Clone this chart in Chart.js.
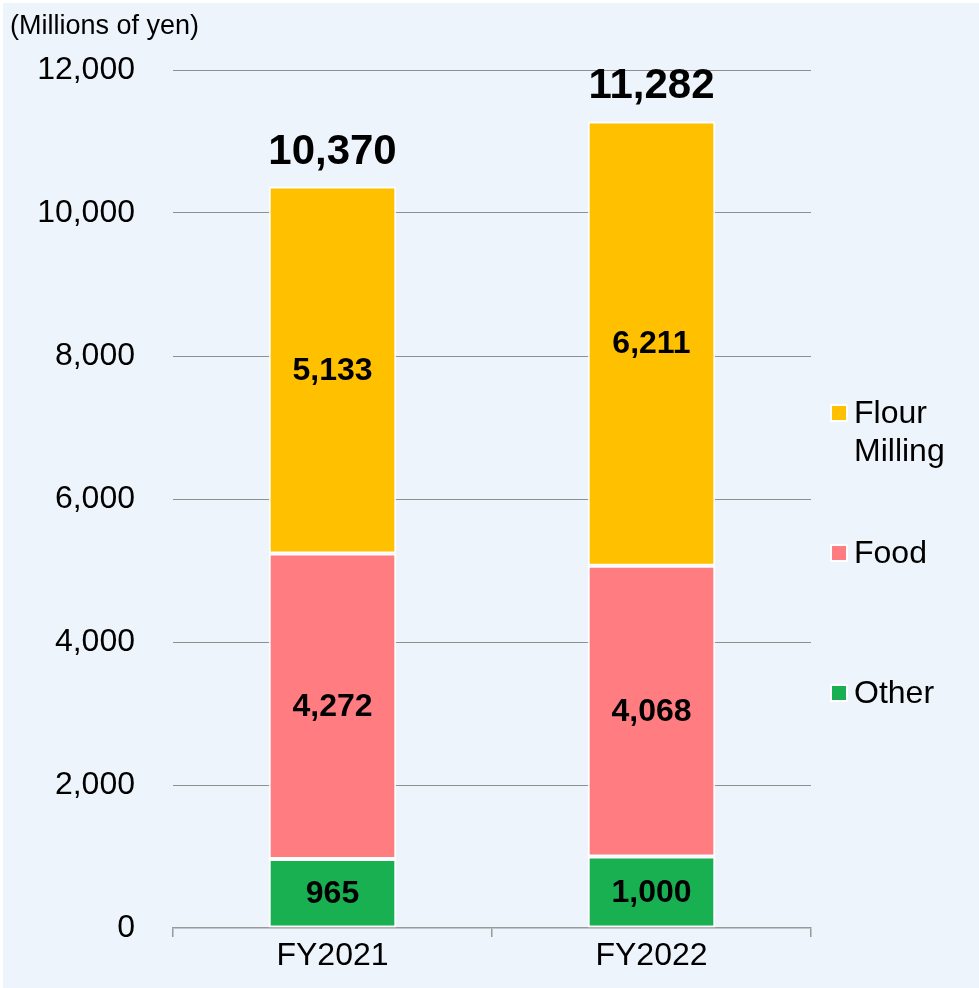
<!DOCTYPE html>
<html>
<head>
<meta charset="utf-8">
<script src="https://cdn.jsdelivr.net/npm/chart.js@4.4.1/dist/chart.umd.min.js"></script>
<style>
  html, body { margin: 0; padding: 0; background: #ffffff; }
  #wrap { position: absolute; left: 0; top: 0; width: 979px; height: 988px; }
</style>
</head>
<body>
<div id="wrap"><canvas id="salesChart" width="979" height="988"></canvas></div>
<script>
const categories = ['FY2021', 'FY2022'];
const otherValues = [965, 1000];
const foodValues = [4272, 4068];
const flourValues = [5133, 6211];
const totals = [10370, 11282];
const seriesNames = ['Flour\nMilling', 'Food', 'Other'];
const unitLabel = '(Millions of yen)';

const FONT = '"Liberation Sans", Arial, sans-serif';

const flourColor = '#ffc000';
const foodColor = '#ff7c80';
const otherColor = '#18b050';

// background, unit label, bar labels and the right-hand legend
const decorPlugin = {
    id: 'decor',
    beforeDraw(chart) {
        const ctx = chart.ctx;
        ctx.save();
        ctx.fillStyle = '#eef4fb';
        ctx.fillRect(3, 3, chart.width - 3, chart.height - 3);
        ctx.restore();
    },
    afterDatasetsDraw(chart) {
        const ctx = chart.ctx;
        ctx.save();
        ctx.fillStyle = '#000';
        ctx.textAlign = 'center';
        ctx.textBaseline = 'middle';
        ctx.font = 'bold 32px ' + FONT;
        chart.data.datasets.forEach((ds, i) => {
            const meta = chart.getDatasetMeta(i);
            meta.data.forEach((bar, j) => {
                const mid = (bar.y + bar.base) / 2;
                ctx.fillText(ds.data[j].toLocaleString('en-US'), bar.x, mid + 1);
            });
        });
        // totals above the stacks
        const topMeta = chart.getDatasetMeta(2);
        ctx.font = 'bold 42px ' + FONT;
        ctx.textBaseline = 'alphabetic';
        topMeta.data.forEach((bar, j) => {
            const y = chart.scales.y.getPixelForValue(totals[j]);
            ctx.fillText(totals[j].toLocaleString('en-US'), bar.x, y - 23);
        });

        // unit label
        ctx.font = '27px ' + FONT;
        ctx.textAlign = 'left';
        ctx.textBaseline = 'middle';
        ctx.fillText(unitLabel, 10, 27);

        // legend
        const items = [
            { name: seriesNames[0], color: flourColor, y: 413 },
            { name: seriesNames[1], color: foodColor, y: 553 },
            { name: seriesNames[2], color: otherColor, y: 693 }
        ];
        ctx.font = '32px ' + FONT;
        items.forEach(it => {
            ctx.fillStyle = '#ffffff';
            ctx.fillRect(830, it.y - 9, 18, 18);
            ctx.fillStyle = it.color;
            ctx.fillRect(832, it.y - 7, 14, 14);
            ctx.fillStyle = '#000';
            it.name.split('\n').forEach((line, k) => {
                ctx.fillText(line, 854, it.y + 1 + k * 38);
            });
        });
        ctx.restore();
    }
};

new Chart(document.getElementById('salesChart').getContext('2d'), {
    type: 'bar',
    data: {
        labels: categories,
        datasets: [
            { label: 'Other', data: otherValues, backgroundColor: otherColor },
            { label: 'Food', data: foodValues, backgroundColor: foodColor },
            { label: 'Flour Milling', data: flourValues, backgroundColor: flourColor }
        ].map(d => Object.assign(d, {
            borderColor: '#ffffff',
            borderWidth: 2,
            borderSkipped: false,
            barPercentage: 1,
            categoryPercentage: 0.4
        }))
    },
    options: {
        responsive: false,
        animation: false,
        layout: { padding: { top: 70, right: 168, left: 0, bottom: 0 } },
        plugins: {
            legend: { display: false },
            tooltip: { enabled: false }
        },
        scales: {
            x: {
                stacked: true,
                grid: {
                    offset: true,
                    drawOnChartArea: false,
                    drawTicks: true,
                    tickLength: 9,
                    color: '#9a9a9a',
                    lineWidth: 1.5
                },
                border: { color: '#9a9a9a', width: 1.5 },
                ticks: {
                    color: '#000',
                    font: { family: FONT, size: 32 },
                    padding: 0
                },
                afterFit(scale) { scale.height = 60; }
            },
            y: {
                stacked: true,
                min: 0,
                max: 12000,
                ticks: {
                    stepSize: 2000,
                    color: '#000',
                    font: { family: FONT, size: 32 },
                    padding: 38
                },
                grid: {
                    drawTicks: false,
                    color: ctx => ctx.tick.value === 0 ? 'rgba(0,0,0,0)' : '#8f8f8f',
                    lineWidth: 1
                },
                border: { display: false },
                afterFit(scale) { scale.width = 173; }
            }
        }
    },
    plugins: [decorPlugin]
});
</script>
</body>
</html>
